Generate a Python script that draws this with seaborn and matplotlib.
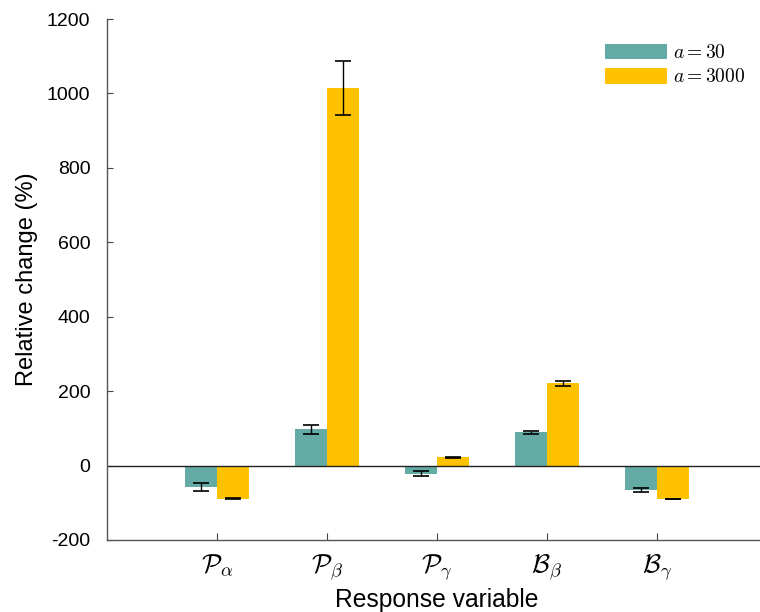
import matplotlib
matplotlib.use("Agg")
import matplotlib.pyplot as plt
import seaborn as sns
import pandas as pd
import numpy as np

categories = [r"$\mathcal{P}_\alpha$", r"$\mathcal{P}_\beta$", r"$\mathcal{P}_\gamma$",
              r"$\mathcal{B}_\beta$", r"$\mathcal{B}_\gamma$"]
series_names = [r"$a = 30$", r"$a = 3000$"]
values_a30 = [-58, 98, -22, 89, -66]
errors_a30 = [10, 12, 7, 4, 6]
values_a3000 = [-89, 1015, 22, 221, -90]
errors_a3000 = [1, 72, 1.5, 7, 1]
yticks = [-200, 0, 200, 400, 600, 800, 1000, 1200]

colors = ["#64aba6", "#fec200"]

sns.set_theme(style="white")
plt.rcParams["font.family"] = ["Liberation Sans", "DejaVu Sans"]
plt.rcParams["mathtext.fontset"] = "cm"
plt.rcParams["text.color"] = "black"
plt.rcParams["axes.labelcolor"] = "black"
plt.rcParams["xtick.color"] = "black"
plt.rcParams["ytick.color"] = "black"

df = pd.DataFrame({
    "cat": categories * 2,
    "series": [series_names[0]] * 5 + [series_names[1]] * 5,
    "value": values_a30 + values_a3000,
    "err": errors_a30 + errors_a3000,
})

fig = plt.figure(figsize=(7.6, 6.12), dpi=100)
ax = fig.add_axes([107 / 760, (612 - 540) / 612, 660 / 760, (540 - 19) / 612])

sns.barplot(data=df, x="cat", y="value", hue="series", palette=colors,
            width=0.58, errorbar=None, ax=ax, saturation=1, linewidth=0,
            order=categories, hue_order=series_names)

errs_by_series = [errors_a30, errors_a3000]
vals_by_series = [values_a30, values_a3000]
for cont, errs, vals in zip(ax.containers, errs_by_series, vals_by_series):
    xs = [p.get_x() + p.get_width() / 2 for p in cont.patches]
    ax.errorbar(xs, vals, yerr=errs, fmt="none", ecolor="black",
                elinewidth=1.0, capsize=6, capthick=1.2, zorder=5)

ax.axhline(0, color="#222222", lw=1.0, zorder=1)

ax.set_xlim(-1, 5)
ax.set_ylim(-200, 1200)
ax.set_yticks(yticks)
ax.set_yticklabels([str(t) for t in yticks], fontsize=14)
ax.tick_params(axis="x", labelsize=19, direction="in", length=5, width=0.8,
               color="#444444", labelcolor="black", pad=9, bottom=True)
ax.tick_params(axis="y", direction="in", length=4, width=0.8, color="#444444",
               labelcolor="black", left=True, pad=12)

for s in ["top", "right"]:
    ax.spines[s].set_visible(False)
for s in ["left", "bottom"]:
    ax.spines[s].set_color("#555555")
    ax.spines[s].set_linewidth(1.0)

ax.set_xlabel("Response variable", fontsize=17.7, labelpad=4, color="black")
ax.set_ylabel("Relative change (%)", fontsize=17, labelpad=6, color="black")

leg = ax.legend(loc="upper right", bbox_to_anchor=(0.985, 0.975), frameon=False,
                fontsize=14, handlelength=3.2, handleheight=0.85,
                handletextpad=0.3, labelspacing=0.3, borderaxespad=0.2)
for t in leg.get_texts():
    t.set_fontsize(14)
    t.set_color("black")

fig.savefig("out.png", dpi=100, facecolor="white")
